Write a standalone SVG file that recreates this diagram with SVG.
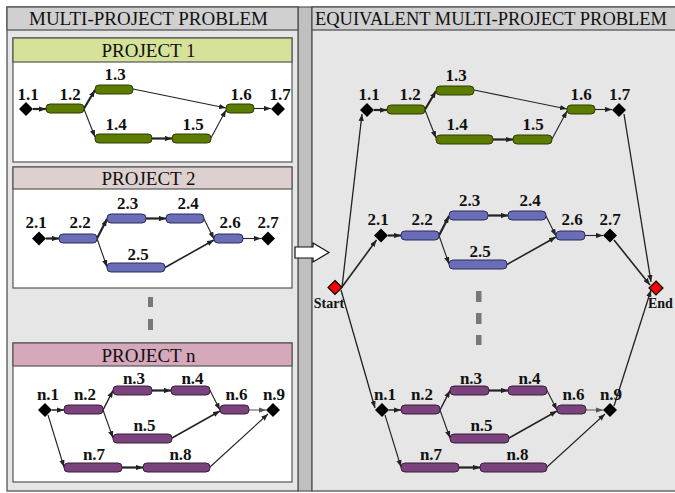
<svg xmlns="http://www.w3.org/2000/svg" width="675" height="493" viewBox="0 0 675 493">
<style>
.panel{fill:#e6e6e6;stroke:#555;stroke-width:1.3}
.tbar{fill:#d0d0d0;stroke:#555;stroke-width:1.3}
.ttl{font-family:"Liberation Serif",serif;font-size:19px;fill:#111}
.box{fill:#fff;stroke:#555;stroke-width:1.2}
.hdr{stroke:#555;stroke-width:1.2}
.lbl{font-family:"Liberation Serif",serif;font-weight:bold;font-size:17px;fill:#111;text-anchor:middle}
.g{fill:#5c7c00;stroke:#2d3b00;stroke-width:1}
.b{fill:#6a6db8;stroke:#2a2c5c;stroke-width:1}
.p{fill:#7a437c;stroke:#3a1d3b;stroke-width:1}
.dia{fill:#000}
.red{fill:#f00;stroke:#000;stroke-width:1.2}
.thk{stroke:#222;stroke-width:2.2;fill:none;marker-end:url(#ah)}
.thn{stroke:#222;stroke-width:1.1;fill:none;marker-end:url(#ah)}
.gry{stroke:#777;stroke-width:1.3;fill:none;marker-end:url(#ahg)}
.dash{fill:#777}
</style>
<defs>
<marker id="ah" viewBox="0 0 8 6" refX="8" refY="3" markerWidth="7" markerHeight="5.5" markerUnits="userSpaceOnUse" orient="auto"><path d="M0,0 L8,3 L0,6Z" fill="#222"/></marker>
<marker id="ahg" viewBox="0 0 8 6" refX="8" refY="3" markerWidth="7" markerHeight="5.5" markerUnits="userSpaceOnUse" orient="auto"><path d="M0,0 L8,3 L0,6Z" fill="#555"/></marker>
<path id="dm" d="M0,-7 L7,0 L0,7 L-7,0Z"/>
</defs>

<!-- frames -->
<g id="frames">
<rect x="298" y="7" width="14" height="484" fill="#c0c0c0" stroke="#555" stroke-width="1.2"/>
<rect class="panel" x="7" y="7" width="291" height="484"/>
<rect class="tbar" x="7" y="7" width="291" height="23"/>
<text class="ttl" x="29" y="25" textLength="239" lengthAdjust="spacingAndGlyphs">MULTI-PROJECT PROBLEM</text>
<rect class="panel" x="312" y="7" width="366" height="484"/>
<rect class="tbar" x="312" y="7" width="366" height="23"/>
<text class="ttl" x="315" y="25" style="font-size:18px" textLength="352" lengthAdjust="spacingAndGlyphs">EQUIVALENT MULTI-PROJECT PROBLEM</text>
<polygon points="295,247 313,247 313,243 329,252.5 313,262 313,258 295,258" fill="#fff" stroke="#111" stroke-width="1.2"/>
</g>

<!-- project boxes -->
<g id="box1">
<rect class="box" x="13" y="38" width="279" height="124"/>
<rect class="hdr" x="13" y="38" width="279" height="24" fill="#d6e29a"/>
<text class="ttl" x="148.5" y="57" text-anchor="middle">PROJECT 1</text>
</g>
<g id="box2">
<rect class="box" x="13" y="167" width="279" height="121"/>
<rect class="hdr" x="13" y="167" width="279" height="22" fill="#dfd0d0"/>
<text class="ttl" x="148.5" y="185" text-anchor="middle">PROJECT 2</text>
</g>
<g id="boxn">
<rect class="box" x="13" y="343" width="279" height="139"/>
<rect class="hdr" x="13" y="343" width="279" height="23" fill="#d6a8bc"/>
<text class="ttl" x="148.5" y="361.5" text-anchor="middle">PROJECT n</text>
</g>
<g id="dashes">
<rect class="dash" x="148" y="297" width="5" height="10"/>
<rect class="dash" x="148" y="319" width="5" height="11"/>
<rect class="dash" x="476" y="291" width="5.5" height="11"/>
<rect class="dash" x="476" y="313" width="5.5" height="11"/>
<rect class="dash" x="476" y="335" width="5.5" height="10"/>
</g>

<!-- ===== LEFT PROJECT 1 ===== -->
<g id="L1-connectors">
<line class="thk" x1="33" y1="109" x2="46" y2="109"/>
<line class="thk" x1="84" y1="108.5" x2="95" y2="90"/>
<line class="thn" x1="84" y1="109" x2="95" y2="137"/>
<line class="thn" x1="133" y1="89" x2="226" y2="108"/>
<line class="thk" x1="152" y1="138.5" x2="172" y2="138.5"/>
<line class="thn" x1="211" y1="138" x2="226" y2="110"/>
<line class="thn" x1="254" y1="108.5" x2="271" y2="108.5"/>
</g>
<g id="L1-1"><use href="#dm" class="dia" x="26" y="109"/><text class="lbl" x="28" y="100">1.1</text></g>
<g id="L1-2"><rect class="g" x="46" y="104" width="38" height="9" rx="4"/><text class="lbl" x="70" y="100">1.2</text></g>
<g id="L1-3"><rect class="g" x="95" y="85" width="38" height="9" rx="4"/><text class="lbl" x="115" y="80">1.3</text></g>
<g id="L1-4"><rect class="g" x="95" y="134" width="57" height="9" rx="4"/><text class="lbl" x="116" y="130">1.4</text></g>
<g id="L1-5"><rect class="g" x="172" y="134" width="39" height="9" rx="4"/><text class="lbl" x="193" y="130">1.5</text></g>
<g id="L1-6"><rect class="g" x="226" y="104" width="28" height="9" rx="4"/><text class="lbl" x="241" y="100">1.6</text></g>
<g id="L1-7"><use href="#dm" class="dia" x="278" y="109"/><text class="lbl" x="280" y="100">1.7</text></g>

<!-- ===== LEFT PROJECT 2 ===== -->
<g id="L2-connectors">
<line class="thk" x1="46" y1="238.5" x2="59" y2="238.5"/>
<line class="thk" x1="97" y1="238.5" x2="107" y2="219"/>
<line class="thn" x1="97" y1="238.5" x2="107" y2="267"/>
<line class="thk" x1="146" y1="218.5" x2="166" y2="218.5"/>
<line class="thn" x1="204" y1="219" x2="214" y2="239"/>
<line class="thk" x1="165" y1="267.5" x2="214" y2="240" style="stroke-width:1.6"/>
<line class="thn" x1="243" y1="238.5" x2="261" y2="238.5"/>
</g>
<g id="L2-1"><use href="#dm" class="dia" x="39" y="238.5"/><text class="lbl" x="36" y="228">2.1</text></g>
<g id="L2-2"><rect class="b" x="59" y="234" width="38" height="9" rx="4"/><text class="lbl" x="80" y="228">2.2</text></g>
<g id="L2-3"><rect class="b" x="107" y="214" width="39" height="9" rx="4"/><text class="lbl" x="127.5" y="209">2.3</text></g>
<g id="L2-4"><rect class="b" x="166" y="214" width="38" height="9" rx="4"/><text class="lbl" x="188" y="209">2.4</text></g>
<g id="L2-5"><rect class="b" x="107" y="263" width="58" height="9" rx="4"/><text class="lbl" x="138" y="260">2.5</text></g>
<g id="L2-6"><rect class="b" x="214" y="234" width="29" height="9" rx="4"/><text class="lbl" x="230" y="228">2.6</text></g>
<g id="L2-7"><use href="#dm" class="dia" x="268" y="238.5"/><text class="lbl" x="268" y="228">2.7</text></g>

<!-- ===== LEFT PROJECT n ===== -->
<g id="Ln-connectors">
<line class="thn" x1="52" y1="410" x2="64" y2="410" style="stroke-width:1.5"/>
<line class="thn" x1="103" y1="410" x2="113" y2="390.5" style="stroke-width:1.5"/>
<line class="thn" x1="103" y1="410" x2="113" y2="438"/>
<line class="thk" x1="152" y1="390.5" x2="171" y2="390.5"/>
<line class="thn" x1="210" y1="390.5" x2="220" y2="410"/>
<line class="thn" x1="172" y1="438" x2="220" y2="411" style="stroke-width:1.5"/>
<line class="gry" x1="249" y1="410" x2="266" y2="410"/>
<line class="thn" x1="48" y1="415" x2="64" y2="467"/>
<line class="thk" x1="122" y1="467.5" x2="143" y2="467.5"/>
<line class="thn" x1="210" y1="467" x2="268" y2="414"/>
</g>
<g id="Ln-1"><use href="#dm" class="dia" x="45" y="410"/><text class="lbl" x="48" y="400">n.1</text></g>
<g id="Ln-2"><rect class="p" x="64" y="405" width="39" height="9" rx="4"/><text class="lbl" x="85" y="400">n.2</text></g>
<g id="Ln-3"><rect class="p" x="113" y="386" width="39" height="9" rx="4"/><text class="lbl" x="134" y="384">n.3</text></g>
<g id="Ln-4"><rect class="p" x="171" y="386" width="39" height="9" rx="4"/><text class="lbl" x="192.5" y="384">n.4</text></g>
<g id="Ln-5"><rect class="p" x="113" y="434" width="59" height="9" rx="4"/><text class="lbl" x="144.5" y="431">n.5</text></g>
<g id="Ln-6"><rect class="p" x="220" y="405" width="29" height="9" rx="4"/><text class="lbl" x="236.5" y="400">n.6</text></g>
<g id="Ln-9"><use href="#dm" class="dia" x="273" y="410"/><text class="lbl" x="274" y="400">n.9</text></g>
<g id="Ln-7"><rect class="p" x="64" y="463" width="58" height="9" rx="4"/><text class="lbl" x="94" y="460">n.7</text></g>
<g id="Ln-8"><rect class="p" x="143" y="463" width="67" height="9" rx="4"/><text class="lbl" x="180.5" y="460">n.8</text></g>

<!-- ===== RIGHT PANEL ===== -->
<g id="R-connectors">
<line class="thn" x1="342" y1="287" x2="362" y2="114" style="stroke-width:1.3"/>
<line class="thn" x1="342" y1="287" x2="376.5" y2="240" style="stroke-width:1.6"/>
<line class="thn" x1="341" y1="290" x2="375" y2="408" style="stroke-width:1.3"/>
<line class="thn" x1="624" y1="114" x2="651" y2="282" style="stroke-width:1.3"/>
<line class="thn" x1="614" y1="240" x2="650" y2="285" style="stroke-width:1.6"/>
<line class="thn" x1="614" y1="406" x2="651" y2="290" style="stroke-width:1.3"/>
</g>
<g id="R-start"><use href="#dm" class="red" x="335" y="287.5"/><text class="lbl" x="329" y="308" style="font-size:14px">Start</text></g>
<g id="R-end"><use href="#dm" class="red" x="656" y="288"/><text class="lbl" x="648" y="308" style="font-size:14px;text-anchor:start">End</text></g>

<g transform="translate(341,1)">
<g id="R1-connectors">
<line class="thk" x1="33" y1="109" x2="46" y2="109"/>
<line class="thk" x1="84" y1="108.5" x2="95" y2="90"/>
<line class="thn" x1="84" y1="109" x2="95" y2="137"/>
<line class="thn" x1="133" y1="89" x2="226" y2="108"/>
<line class="thk" x1="152" y1="138.5" x2="172" y2="138.5"/>
<line class="thn" x1="211" y1="138" x2="226" y2="110"/>
<line class="thn" x1="254" y1="108.5" x2="271" y2="108.5"/>
</g>
<g id="R1-1"><use href="#dm" class="dia" x="26" y="109"/><text class="lbl" x="28" y="99">1.1</text></g>
<g id="R1-2"><rect class="g" x="46" y="104" width="38" height="9" rx="4"/><text class="lbl" x="69" y="99">1.2</text></g>
<g id="R1-3"><rect class="g" x="95" y="85" width="38" height="9" rx="4"/><text class="lbl" x="115" y="80">1.3</text></g>
<g id="R1-4"><rect class="g" x="95" y="134" width="57" height="9" rx="4"/><text class="lbl" x="116" y="129">1.4</text></g>
<g id="R1-5"><rect class="g" x="172" y="134" width="39" height="9" rx="4"/><text class="lbl" x="192" y="129">1.5</text></g>
<g id="R1-6"><rect class="g" x="226" y="104" width="28" height="9" rx="4"/><text class="lbl" x="240" y="99">1.6</text></g>
<g id="R1-7"><use href="#dm" class="dia" x="278" y="109"/><text class="lbl" x="278.5" y="99">1.7</text></g>
</g>

<g transform="translate(342,-3)">
<g id="R2-connectors">
<line class="thk" x1="46" y1="238.5" x2="59" y2="238.5"/>
<line class="thk" x1="97" y1="238.5" x2="107" y2="219"/>
<line class="thn" x1="97" y1="238.5" x2="107" y2="267"/>
<line class="thk" x1="146" y1="218.5" x2="166" y2="218.5"/>
<line class="thn" x1="204" y1="219" x2="214" y2="239"/>
<line class="thk" x1="165" y1="267.5" x2="214" y2="240" style="stroke-width:1.6"/>
<line class="thn" x1="243" y1="238.5" x2="261" y2="238.5"/>
</g>
<g id="R2-1"><use href="#dm" class="dia" x="39" y="238.5"/><text class="lbl" x="36" y="228">2.1</text></g>
<g id="R2-2"><rect class="b" x="59" y="234" width="38" height="9" rx="4"/><text class="lbl" x="80" y="228">2.2</text></g>
<g id="R2-3"><rect class="b" x="107" y="214" width="39" height="9" rx="4"/><text class="lbl" x="127.5" y="209">2.3</text></g>
<g id="R2-4"><rect class="b" x="166" y="214" width="38" height="9" rx="4"/><text class="lbl" x="188" y="209">2.4</text></g>
<g id="R2-5"><rect class="b" x="107" y="263" width="58" height="9" rx="4"/><text class="lbl" x="138" y="260">2.5</text></g>
<g id="R2-6"><rect class="b" x="214" y="234" width="29" height="9" rx="4"/><text class="lbl" x="230" y="228">2.6</text></g>
<g id="R2-7"><use href="#dm" class="dia" x="268" y="238.5"/><text class="lbl" x="268" y="228">2.7</text></g>
</g>

<g transform="translate(337,0)">
<g id="Rn-connectors">
<line class="thn" x1="52" y1="410" x2="64" y2="410" style="stroke-width:1.5"/>
<line class="thn" x1="103" y1="410" x2="113" y2="390.5" style="stroke-width:1.5"/>
<line class="thn" x1="103" y1="410" x2="113" y2="438"/>
<line class="thk" x1="152" y1="390.5" x2="171" y2="390.5"/>
<line class="thn" x1="210" y1="390.5" x2="220" y2="410"/>
<line class="thn" x1="172" y1="438" x2="220" y2="411" style="stroke-width:1.5"/>
<line class="gry" x1="249" y1="410" x2="266" y2="410"/>
<line class="thn" x1="48" y1="415" x2="64" y2="467"/>
<line class="thk" x1="122" y1="467.5" x2="143" y2="467.5"/>
<line class="thn" x1="210" y1="467" x2="268" y2="414"/>
</g>
<g id="Rn-1"><use href="#dm" class="dia" x="45" y="410"/><text class="lbl" x="48" y="400">n.1</text></g>
<g id="Rn-2"><rect class="p" x="64" y="405" width="39" height="9" rx="4"/><text class="lbl" x="85" y="400">n.2</text></g>
<g id="Rn-3"><rect class="p" x="113" y="386" width="39" height="9" rx="4"/><text class="lbl" x="134" y="384">n.3</text></g>
<g id="Rn-4"><rect class="p" x="171" y="386" width="39" height="9" rx="4"/><text class="lbl" x="192.5" y="384">n.4</text></g>
<g id="Rn-5"><rect class="p" x="113" y="434" width="59" height="9" rx="4"/><text class="lbl" x="144.5" y="431">n.5</text></g>
<g id="Rn-6"><rect class="p" x="220" y="405" width="29" height="9" rx="4"/><text class="lbl" x="236.5" y="400">n.6</text></g>
<g id="Rn-9"><use href="#dm" class="dia" x="273" y="410"/><text class="lbl" x="274" y="400">n.9</text></g>
<g id="Rn-7"><rect class="p" x="64" y="463" width="58" height="9" rx="4"/><text class="lbl" x="94" y="460">n.7</text></g>
<g id="Rn-8"><rect class="p" x="143" y="463" width="67" height="9" rx="4"/><text class="lbl" x="180.5" y="460">n.8</text></g>
</g>
</svg>
